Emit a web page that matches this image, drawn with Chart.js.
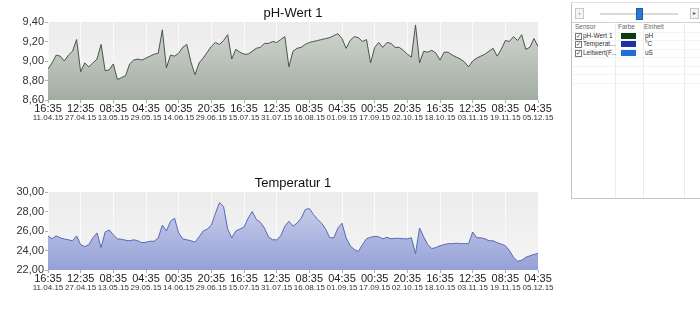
<!DOCTYPE html>
<html>
<head>
<meta charset="utf-8">
<script src="https://cdn.jsdelivr.net/npm/chart.js@4.4.1/dist/chart.umd.min.js"></script>
<style>
  body { margin: 0; background: #fff; font-family: "Liberation Sans", Arial, sans-serif; }
  #wrap { position: relative; width: 700px; height: 312px; overflow: hidden; }
  .cbox { position: absolute; left: 0; width: 560px; height: 124px; }
  #box1 { top: 0; }
  #box2 { top: 170px; }
  #panel { position: absolute; left: 571px; top: 2px; width: 130px; height: 195px; background: #fff;
           border-left: 1px solid #c4c4c4; border-bottom: 1px solid #c4c4c4; border-top: 1px solid #e2e2e2; }
  #panel div { position: absolute; }
  .btn { top: 5px; width: 7px; height: 9px; border: 1px solid #c8c8c8; background: #f4f4f4;
         font-size: 6px; line-height: 9px; text-align: center; color: #555; }
  .sep { left: 0; width: 130px; height: 1px; background: #d0d0d0; }
  .col { top: 19px; width: 1px; height: 176px; background: #ececec; }
  .row { left: 0; width: 130px; height: 1px; background: #f3f3f3; }
  .txt { font-size: 6.5px; line-height: 8px; color: #333; white-space: nowrap; }
  .hd { color: #666; }
  .chk { width: 5px; height: 5px; border: 1px solid #777; background: #fff;
         font-size: 6px; line-height: 5px; text-align: center; color: #222; }
  .sw { width: 15px; height: 6px; }
</style>
</head>
<body>
<div id="wrap">
  <div class="cbox" id="box1"><canvas id="phChart"></canvas></div>
  <div class="cbox" id="box2"><canvas id="tempChart"></canvas></div>
  <div id="panel">
    <div class="btn" style="left:3px">&#8249;</div>
    <div style="left:28px;top:10px;width:78px;height:2px;background:#dadada;"></div>
    <div style="left:64px;top:5px;width:5px;height:10px;background:#2f78d2;border:1px solid #1d5aa8;"></div>
    <div class="btn" style="left:118px">&#9656;</div>
    <div class="sep" style="top:19px"></div>
    <div class="col" style="left:43px"></div>
    <div class="col" style="left:71px"></div>
    <div class="col" style="left:112px"></div>
    <div class="row" style="top:29px"></div>
    <div class="row" style="top:37px"></div>
    <div class="row" style="top:46px"></div>
    <div class="row" style="top:54px"></div>
    <div class="row" style="top:63px"></div>
    <div class="row" style="top:71px"></div>
    <div class="row" style="top:80px"></div>
    <div class="txt hd" style="left:3px;top:20px">Sensor</div>
    <div class="txt hd" style="left:46px;top:20px">Farbe</div>
    <div class="txt hd" style="left:72px;top:20px">Einheit</div>

    <div class="chk" style="left:3px;top:30px">&#10003;</div>
    <div class="txt" style="left:11px;top:29px">pH-Wert 1</div>
    <div class="sw" style="left:49px;top:30px;background:#0f3a14"></div>
    <div class="txt" style="left:73px;top:29px">pH</div>

    <div class="chk" style="left:3px;top:38px">&#10003;</div>
    <div class="txt" style="left:11px;top:37px">Temperat...</div>
    <div class="sw" style="left:49px;top:38px;background:#1f30a8"></div>
    <div class="txt" style="left:73px;top:37px">°C</div>

    <div class="chk" style="left:3px;top:47px">&#10003;</div>
    <div class="txt" style="left:11px;top:46px">Leitwert(F...</div>
    <div class="sw" style="left:49px;top:47px;background:#1e6fd8"></div>
    <div class="txt" style="left:73px;top:46px">uS</div>
  </div>
</div>
<script>
// x tick labels (every 8th sample)
const timeLabels = ['16:35','12:35','08:35','04:35','00:35','20:35','16:35','12:35',
                    '08:35','04:35','00:35','20:35','16:35','12:35','08:35','04:35'];
const dateLabels = ['11.04.15','27.04.15','13.05.15','29.05.15','14.06.15','29.06.15','15.07.15','31.07.15',
                    '16.08.15','01.09.15','17.09.15','02.10.15','18.10.15','03.11.15','19.11.15','05.12.15'];

const phValues = [
  8.92, 8.98, 9.06, 9.05, 9.00, 9.06, 9.10, 9.22, 8.89, 8.98,
  8.94, 8.98, 9.02, 9.17, 8.90, 8.91, 8.97, 8.81, 8.83, 8.85,
  8.97, 9.01, 9.02, 9.01, 9.03, 9.05, 9.07, 9.08, 9.32, 8.93,
  9.06, 9.05, 9.08, 9.14, 9.17, 8.99, 8.86, 8.98, 9.03, 9.09,
  9.15, 9.19, 9.17, 9.21, 9.27, 9.02, 9.12, 9.09, 9.07, 9.07,
  9.10, 9.13, 9.14, 9.18, 9.18, 9.20, 9.19, 9.22, 9.25, 8.94,
  9.10, 9.13, 9.14, 9.17, 9.19, 9.20, 9.21, 9.22, 9.23, 9.24,
  9.26, 9.28, 9.23, 9.13, 9.21, 9.25, 9.24, 9.20, 9.22, 8.98,
  9.14, 9.19, 9.14, 9.19, 9.18, 9.14, 9.14, 9.11, 9.07, 9.04,
  9.37, 8.98, 9.10, 9.09, 9.11, 9.08, 9.01, 9.09, 9.09, 9.06,
  9.04, 9.02, 8.99, 8.94, 9.00, 9.03, 9.05, 9.07, 9.10, 9.13,
  9.05, 9.12, 9.21, 9.20, 9.25, 9.21, 9.27, 9.12, 9.14, 9.23,
  9.15
];

const tempValues = [
  25.5, 25.2, 25.5, 25.3, 25.17, 25.1, 25.0, 25.5, 24.6, 24.4,
  24.6, 25.3, 25.8, 24.3, 25.9, 26.1, 25.6, 25.2, 25.15, 25.05,
  25.0, 25.1, 25.0, 24.8, 24.85, 24.95, 24.95, 25.3, 26.6, 26.0,
  27.0, 27.3, 25.8, 25.2, 25.1, 25.0, 24.85, 25.4, 26.0, 26.2,
  26.6, 27.8, 28.9, 28.5, 26.2, 25.3, 26.0, 26.2, 26.4, 27.3,
  28.0, 27.2, 26.9, 26.3, 25.4, 25.1, 25.1, 25.5, 26.5, 27.0,
  26.5, 26.8, 27.3, 28.2, 28.3, 27.7, 27.2, 26.8, 26.2, 25.3,
  25.3, 26.3, 26.8, 25.3, 24.5, 24.1, 23.9, 24.6, 25.2, 25.35,
  25.45, 25.4, 25.2, 25.35, 25.2, 25.25, 25.25, 25.2, 25.2, 25.3,
  23.7, 26.3, 25.4, 24.6, 24.2, 24.3, 24.5, 24.6, 24.7, 24.7,
  24.75, 24.7, 24.7, 24.7, 25.9, 25.3, 25.3, 25.2, 25.0, 25.0,
  24.8, 24.65, 24.5, 24.0, 23.3, 22.9, 23.0, 23.3, 23.45, 23.6,
  23.7
];

const FONT = '"Liberation Sans", Arial, sans-serif';

const plotBg = {
  id: 'plotBg',
  beforeDraw(chart) {
    const { ctx, chartArea: a } = chart;
    const g = ctx.createLinearGradient(0, a.top, 0, a.bottom);
    g.addColorStop(0, '#ececec');
    g.addColorStop(1, '#f5f5f5');
    ctx.save();
    ctx.fillStyle = g;
    ctx.fillRect(a.left, a.top, a.right - a.left, a.bottom - a.top);
    ctx.restore();
  }
};

// title centred over the plot area, not over the whole canvas
const plotTitle = {
  id: 'plotTitle',
  afterDraw(chart, args, opts) {
    const { ctx, chartArea: a } = chart;
    ctx.save();
    ctx.font = '13px ' + FONT;
    ctx.fillStyle = '#111';
    ctx.textAlign = 'center';
    ctx.textBaseline = 'middle';
    ctx.fillText(opts.text, (a.left + a.right) / 2, 13);
    ctx.restore();
  }
};

function vGradient(top, bottom) {
  return (c) => {
    const a = c.chart.chartArea;
    if (!a) return top;
    const g = c.chart.ctx.createLinearGradient(0, a.top, 0, a.bottom);
    g.addColorStop(0, top);
    g.addColorStop(1, bottom);
    return g;
  };
}

function makeChart(id, title, values, yMin, yMax, yStep, lineColor, fillTop, fillBottom) {
  const idx = values.map((_, i) => i);
  return new Chart(document.getElementById(id), {
    type: 'line',
    data: {
      labels: idx,
      datasets: [{
        data: values,
        borderColor: lineColor,
        borderWidth: 1,
        backgroundColor: vGradient(fillTop, fillBottom),
        fill: 'start',
        pointRadius: 0,
        tension: 0
      }]
    },
    plugins: [plotBg, plotTitle],
    options: {
      responsive: true,
      maintainAspectRatio: false,
      animation: false,
      layout: { padding: { left: 0, right: 22, top: 22, bottom: 2 } },
      plugins: {
        legend: { display: false },
        tooltip: { enabled: false },
        title: { display: false },
        plotTitle: { text: title }
      },
      scales: {
        x: {
          type: 'linear',
          min: 0,
          max: idx.length - 1,
          border: { display: false },
          grid: { color: 'rgba(255,255,255,0.75)', tickColor: '#b0b0b0', tickLength: 3 },
          ticks: {
            stepSize: 8,
            autoSkip: false,
            maxRotation: 0,
            padding: 0,
            color: '#222',
            font: { family: FONT, size: 11, lineHeight: 1 },
            callback: (v) => v % 8 === 0 ? timeLabels[v / 8] : ''
          }
        },
        x2: {
          type: 'linear',
          position: 'bottom',
          weight: 1,
          min: 0,
          max: idx.length - 1,
          border: { display: false },
          grid: { display: false, drawTicks: false },
          ticks: {
            stepSize: 8,
            autoSkip: false,
            maxRotation: 0,
            padding: 0,
            color: '#333',
            font: { family: FONT, size: 8, lineHeight: 1 },
            callback: (v) => v % 8 === 0 ? dateLabels[v / 8] : ''
          }
        },
        y: {
          min: yMin,
          max: yMax,
          border: { display: false },
          grid: { drawOnChartArea: false, tickColor: '#b0b0b0', tickLength: 3 },
          afterFit: (s) => { s.width = 48; },
          ticks: {
            stepSize: yStep,
            padding: 1,
            color: '#333',
            font: { family: FONT, size: 11 },
            callback: (v) => v.toFixed(2).replace('.', ',')
          }
        }
      }
    }
  });
}

makeChart('phChart', 'pH-Wert 1', phValues, 8.6, 9.4, 0.2, '#4a554a', '#d3d8d2', '#a2ada1');
makeChart('tempChart', 'Temperatur 1', tempValues, 22, 30, 2, '#5a68b4', '#d2d6ef', '#95a1d6');
</script>
</body>
</html>
